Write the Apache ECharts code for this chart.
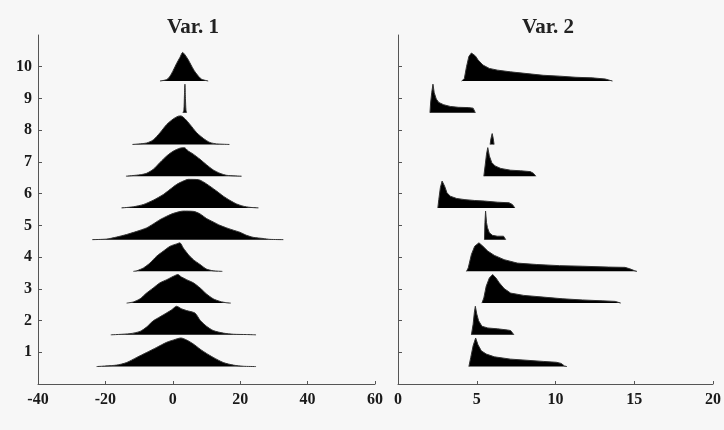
<!DOCTYPE html>
<html>
<head>
<meta charset="utf-8">
<title>Var. 1 / Var. 2</title>
<script src="https://cdn.jsdelivr.net/npm/echarts@6/dist/echarts.min.js"></script>
<style>
  html, body { margin: 0; padding: 0; background: #f7f7f7; }
  #chart { width: 724px; height: 430px; }
</style>
</head>
<body>
<div id="chart"></div>
<script>
// ridge outlines: [x value, relative height 0..1]
// Var. 1, ridges 1..10
var v1r1 = [[-22.6,0],[-16.7,0.05],[-13.7,0.14],[-10.7,0.32],[-7.8,0.49],[-4.8,0.67],[-1.8,0.85],[0.2,0.93],[2.4,1],[4.1,0.93],[6.1,0.79],[8.1,0.61],[10.0,0.46],[12.0,0.32],[15.0,0.14],[18.0,0.05],[20.9,0.01],[24.7,0]];
var v1r2 = [[-18.4,0],[-12.7,0.04],[-9.7,0.12],[-7.8,0.27],[-5.8,0.49],[-3.8,0.63],[-1.8,0.77],[-0.3,0.88],[1.1,1],[2.6,0.91],[4.1,0.85],[6.6,0.76],[8.1,0.51],[10.0,0.30],[12.0,0.15],[15.0,0.06],[18.0,0.02],[21.9,0.01],[24.7,0]];
var v1r3 = [[-13.7,0],[-11.7,0.04],[-9.7,0.15],[-7.8,0.35],[-5.8,0.53],[-3.8,0.71],[-1.8,0.82],[0.2,0.94],[1.5,1],[2.6,0.91],[4.1,0.82],[6.1,0.71],[8.1,0.53],[10.0,0.32],[12.0,0.15],[14.0,0.06],[16.0,0.01],[17.2,0]];
var v1r4 = [[-11.7,0],[-10.7,0.02],[-8.7,0.12],[-6.8,0.29],[-4.8,0.53],[-2.8,0.71],[-0.8,0.88],[1.1,0.96],[2.1,1],[3.1,0.82],[4.6,0.59],[6.1,0.41],[8.1,0.24],[10.0,0.08],[12.0,0.02],[14.7,0]];
var v1r5 = [[-23.9,0],[-19.6,0.02],[-16.7,0.09],[-13.7,0.18],[-10.7,0.29],[-7.8,0.41],[-5.8,0.55],[-3.8,0.70],[-1.8,0.82],[0.2,0.92],[3.1,1],[6.1,0.99],[8.1,0.9],[10.0,0.74],[12.0,0.62],[14.0,0.50],[16.0,0.41],[18.0,0.33],[19.9,0.26],[21.9,0.15],[23.9,0.08],[26.8,0.04],[28.8,0.01],[32.8,0]];
var v1r6 = [[-15.2,0],[-11.7,0.04],[-8.7,0.12],[-5.8,0.27],[-2.8,0.47],[-0.8,0.65],[1.1,0.82],[3.1,0.94],[4.6,1],[7.6,0.99],[9.1,0.91],[11.0,0.76],[13.0,0.59],[15.0,0.41],[17.0,0.26],[18.9,0.14],[20.9,0.06],[22.9,0.02],[25.4,0]];
var v1r7 = [[-13.9,0],[-9.7,0.05],[-7.8,0.10],[-5.8,0.24],[-3.8,0.48],[-1.8,0.71],[0.2,0.88],[2.1,0.98],[3.4,1],[4.6,0.88],[6.1,0.77],[8.1,0.59],[10.0,0.40],[12.0,0.22],[14.0,0.10],[16.0,0.03],[20.4,0]];
var v1r8 = [[-12.0,0],[-7.8,0.05],[-5.8,0.16],[-3.8,0.41],[-1.8,0.70],[0.2,0.90],[1.6,0.99],[2.4,1],[3.6,0.9],[5.1,0.70],[7.1,0.41],[9.1,0.21],[11.0,0.07],[13.0,0.02],[16.8,0]];
var v1r9 = [[3.0,0],[3.3,0.1],[3.45,0.6],[3.6,1],[3.75,0.5],[3.9,0.1],[4.1,0]];
var v1r10 = [[-3.8,0],[-1.8,0.05],[-0.83,0.17],[0.16,0.38],[1.15,0.62],[2.14,0.83],[2.93,1],[3.6,0.92],[4.6,0.74],[5.6,0.52],[6.6,0.32],[7.6,0.17],[8.6,0.06],[10.5,0]];

// Var. 2, ridges 1..10
var v2r1 = [[4.50,0],[4.62,0.32],[4.77,0.73],[4.93,1],[5.08,0.76],[5.29,0.55],[5.60,0.44],[6.12,0.34],[7.15,0.26],[8.19,0.22],[9.22,0.18],[10.05,0.15],[10.36,0.11],[10.57,0.02],[10.72,0]];
var v2r2 = [[4.66,0],[4.77,0.37],[4.85,0.79],[4.91,1],[5.0,0.73],[5.12,0.49],[5.33,0.30],[5.70,0.24],[6.32,0.21],[6.94,0.17],[7.15,0.15],[7.36,0]];
var v2r3 = [[5.33,0],[5.45,0.18],[5.6,0.59],[5.80,0.88],[6.01,1],[6.22,0.88],[6.43,0.71],[6.74,0.51],[7.15,0.35],[7.98,0.27],[9.22,0.21],[10.47,0.15],[11.71,0.11],[12.96,0.08],[13.79,0.06],[14.14,0]];
var v2r4 = [[4.35,0],[4.46,0.12],[4.66,0.59],[4.87,0.88],[5.14,1],[5.39,0.88],[5.70,0.71],[6.12,0.56],[6.74,0.41],[7.57,0.29],[8.81,0.24],[10.26,0.20],[11.71,0.18],[13.37,0.15],[14.41,0.14],[14.72,0.09],[15.03,0.02],[15.17,0]];
var v2r5 = [[5.49,0],[5.52,0.6],[5.56,1],[5.62,0.6],[5.68,0.42],[5.8,0.24],[6.0,0.15],[6.3,0.12],[6.7,0.12],[6.84,0]];
var v2r6 = [[2.53,0],[2.59,0.29],[2.69,0.71],[2.80,0.94],[2.86,1],[2.96,0.76],[3.11,0.53],[3.32,0.41],[3.73,0.33],[4.25,0.29],[4.87,0.26],[5.49,0.24],[6.32,0.2],[7.05,0.18],[7.26,0.12],[7.42,0]];
var v2r7 = [[5.45,0],[5.53,0.36],[5.62,0.77],[5.70,1],[5.80,0.71],[5.95,0.48],[6.16,0.36],[6.53,0.27],[7.15,0.21],[7.77,0.19],[8.40,0.16],[8.60,0.10],[8.75,0]];
var v2r8 = [[5.85,0],[5.9,0.2],[5.98,0.38],[6.05,0.2],[6.1,0]];
var v2r9 = [[2.03,0],[2.07,0.34],[2.14,0.70],[2.22,1],[2.30,0.70],[2.43,0.48],[2.59,0.36],[2.90,0.28],[3.32,0.22],[3.83,0.19],[4.46,0.18],[4.77,0.16],[4.91,0]];
var v2r10 = [[4.04,0],[4.21,0.08],[4.35,0.5],[4.50,0.86],[4.66,0.98],[4.77,1],[4.91,0.88],[5.08,0.74],[5.39,0.56],[5.80,0.44],[6.32,0.38],[7.15,0.32],[8.19,0.26],[9.22,0.20],[10.26,0.17],[11.30,0.13],[12.33,0.11],[13.16,0.07],[13.47,0.02],[13.62,0]];

var var1Ridges = [v1r1, v1r2, v1r3, v1r4, v1r5, v1r6, v1r7, v1r8, v1r9, v1r10];
var var2Ridges = [v2r1, v2r2, v2r3, v2r4, v2r5, v2r6, v2r7, v2r8, v2r9, v2r10];
var rowLabels = [1, 2, 3, 4, 5, 6, 7, 8, 9, 10];
var titles = ['Var. 1', 'Var. 2'];

var BASE_OFFSET = 0.45;   // ridge baseline sits below its row value
var RIDGE_HEIGHT = 0.9;   // peak height in row units

var font = '"Liberation Serif", "DejaVu Serif", serif';
var axisColor = '#555';

function ridgeSeries(ridges, gridIdx, smooth) {
    return ridges.map(function (pts, i) {
        var base = rowLabels[i] - BASE_OFFSET;
        return {
            type: 'line',
            xAxisIndex: gridIdx,
            yAxisIndex: gridIdx,
            symbol: 'none',
            smooth: smooth,
            silent: true,
            animation: false,
            lineStyle: { color: '#333', width: 1 },
            areaStyle: { color: '#000', opacity: 1, origin: base },
            data: pts.map(function (p) { return [p[0], base + p[1] * RIDGE_HEIGHT]; })
        };
    });
}

function yAxis(gridIdx, showLabels) {
    return {
        type: 'value', gridIndex: gridIdx, min: 0, max: 11, interval: 1,
        splitLine: { show: false },
        axisLine: { show: true, onZero: false, lineStyle: { color: axisColor, width: 1 } },
        axisTick: { show: true, inside: true, length: 4, customValues: rowLabels,
                    lineStyle: { color: axisColor } },
        axisLabel: { show: showLabels, customValues: rowLabels, color: '#1a1a1a',
                     fontFamily: font, fontSize: 16, fontWeight: 'bold', margin: 6 }
    };
}

function xAxis(gridIdx, min, max, step) {
    return {
        type: 'value', gridIndex: gridIdx, min: min, max: max, interval: step,
        splitLine: { show: false },
        axisLine: { show: true, onZero: false, lineStyle: { color: axisColor, width: 1 } },
        axisTick: { show: true, inside: true, length: 3, lineStyle: { color: axisColor } },
        axisLabel: { color: '#1a1a1a', fontFamily: font, fontSize: 16, fontWeight: 'bold',
                     margin: 8, showMinLabel: true, showMaxLabel: true }
    };
}

var chart = echarts.init(document.getElementById('chart'), null, { renderer: 'canvas' });
chart.setOption({
    backgroundColor: '#f7f7f7',
    animation: false,
    title: [
        { text: titles[0], left: 188, top: 12, textAlign: 'center',
          textStyle: { fontFamily: font, fontSize: 21, fontWeight: 'bold', color: '#222' } },
        { text: titles[1], left: 543, top: 12, textAlign: 'center',
          textStyle: { fontFamily: font, fontSize: 21, fontWeight: 'bold', color: '#222' } }
    ],
    grid: [
        { left: 38, top: 35, width: 337, height: 349 },
        { left: 398, top: 35, width: 322, height: 349 }
    ],
    xAxis: [xAxis(0, -40, 60, 20), xAxis(1, 0, 20, 5)],
    yAxis: [yAxis(0, true), yAxis(1, false)],
    series: ridgeSeries(var1Ridges, 0, 0.25).concat(ridgeSeries(var2Ridges, 1, false))
});
</script>
</body>
</html>
